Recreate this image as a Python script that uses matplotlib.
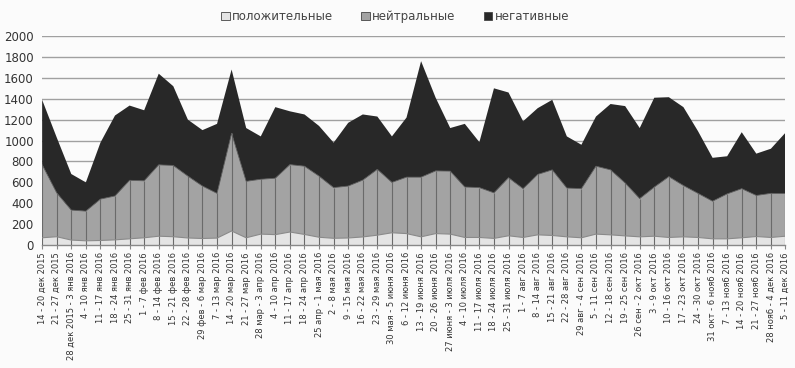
import matplotlib
matplotlib.use("Agg")
import matplotlib.pyplot as plt
import numpy as np

categories = [
    "14 - 20 дек 2015", "21 - 27 дек 2015", "28 дек 2015 - 3 янв 2016", "4 - 10 янв 2016",
    "11 - 17 янв 2016", "18 - 24 янв 2016", "25 - 31 янв 2016", "1 - 7 фев 2016",
    "8 - 14 фев 2016", "15 - 21 фев 2016", "22 - 28 фев 2016", "29 фев - 6 мар 2016",
    "7 - 13 мар 2016", "14 - 20 мар 2016", "21 - 27 мар 2016", "28 мар - 3 апр 2016",
    "4 - 10 апр 2016", "11 - 17 апр 2016", "18 - 24 апр 2016", "25 апр - 1 мая 2016",
    "2 - 8 мая 2016", "9 - 15 мая 2016", "16 - 22 мая 2016", "23 - 29 мая 2016",
    "30 мая - 5 июня 2016", "6 - 12 июня 2016", "13 - 19 июня 2016", "20 - 26 июня 2016",
    "27 июня - 3 июля 2016", "4 - 10 июля 2016", "11 - 17 июля 2016", "18 - 24 июля 2016",
    "25 - 31 июля 2016", "1 - 7 авг 2016", "8 - 14 авг 2016", "15 - 21 авг 2016",
    "22 - 28 авг 2016", "29 авг - 4 сен 2016", "5 - 11 сен 2016", "12 - 18 сен 2016",
    "19 - 25 сен 2016", "26 сен - 2 окт 2016", "3 - 9 окт 2016", "10 - 16 окт 2016",
    "17 - 23 окт 2016", "24 - 30 окт 2016", "31 окт - 6 нояб 2016", "7 - 13 нояб 2016",
    "14 - 20 нояб 2016", "21 - 27 нояб 2016", "28 нояб - 4 дек 2016", "5 - 11 дек 2016",
]

positive = [70, 80, 48, 41, 44, 50, 60, 70, 85, 80, 68, 63, 67, 135, 70, 105, 100, 125,
            102, 75, 65, 68, 78, 95, 118, 110, 79, 110, 105, 73, 73, 64, 89, 73, 98, 92,
            79, 70, 105, 98, 88, 79, 85, 73, 79, 73, 60, 60, 70, 82, 73, 85]

neutral = [700, 420, 287, 284, 396, 420, 560, 545, 683, 682, 592, 502, 428, 935, 540, 525,
           540, 645, 653, 585, 485, 497, 544, 630, 482, 540, 571, 600, 603, 483, 477, 436,
           556, 467, 578, 628, 467, 470, 650, 622, 507, 366, 470, 582, 491, 422, 360, 430,
           470, 393, 422, 408]

negative = [620, 530, 345, 275, 540, 770, 715, 675, 872, 758, 540, 535, 665, 610, 510, 410,
            680, 510, 495, 480, 430, 605, 628, 505, 440, 570, 1110, 700, 412, 604, 435, 1000,
            815, 645, 634, 670, 494, 420, 475, 630, 735, 675, 855, 760, 750, 595, 415, 360,
            540, 400, 427, 582]

yticks = [0, 200, 400, 600, 800, 1000, 1200, 1400, 1600, 1800, 2000]
labels = ["положительные", "нейтральные", "негативные"]

col_pos = "#e4e4e4"
col_neu = "#a3a3a3"
col_neg = "#282828"

fig = plt.figure(figsize=(7.95, 3.68), dpi=100, facecolor="#fbfbfb")
ax = fig.add_axes([0.053, 0.334, 0.935, 0.568])
ax.set_facecolor("#fbfbfb")

x = np.arange(len(categories))
pos = np.array(positive)
neu = np.array(neutral)
neg = np.array(negative)

ax.stackplot(x, pos, neu, neg, colors=[col_pos, col_neu, col_neg],
             labels=labels, zorder=2, linewidth=0)
# drop lines
ax.vlines(x, 0, pos + neu, colors="#6a6a6a", linewidth=0.8, zorder=3)
ax.plot(x, pos, color="#8a8a8a", linewidth=0.8, zorder=3)
ax.plot(x, pos + neu, color="#5a5a5a", linewidth=0.6, zorder=3)

ax.set_xlim(0, len(categories) - 1)
ax.set_ylim(0, 2000)
ax.set_yticks(yticks)
ax.set_yticklabels([str(v) for v in yticks], fontsize=8.5, color="#333333")
ax.yaxis.grid(True, color="#a0a0a0", linewidth=1.0, zorder=0)
ax.set_axisbelow(True)
ax.tick_params(axis="y", length=0, pad=6)

ax.set_xticks(x)
ax.set_xticklabels(categories, rotation=90, fontsize=6.0, color="#333333")
ax.tick_params(axis="x", length=3, color="#888888", pad=2)

for s in ["top", "right", "left"]:
    ax.spines[s].set_visible(False)
ax.spines["bottom"].set_color("#888888")
ax.spines["bottom"].set_linewidth(1.0)

leg = fig.legend(loc="center", bbox_to_anchor=(0.497, 0.955), ncol=3, frameon=False,
                 fontsize=8.5, handlelength=0.7, handleheight=0.7, handletextpad=0.2,
                 columnspacing=2.4)
for h in leg.legend_handles:
    h.set_edgecolor("#444444")
    h.set_linewidth(0.6)
for t in leg.get_texts():
    t.set_color("#444444")

fig.savefig("out.png", dpi=100, facecolor=fig.get_facecolor())
